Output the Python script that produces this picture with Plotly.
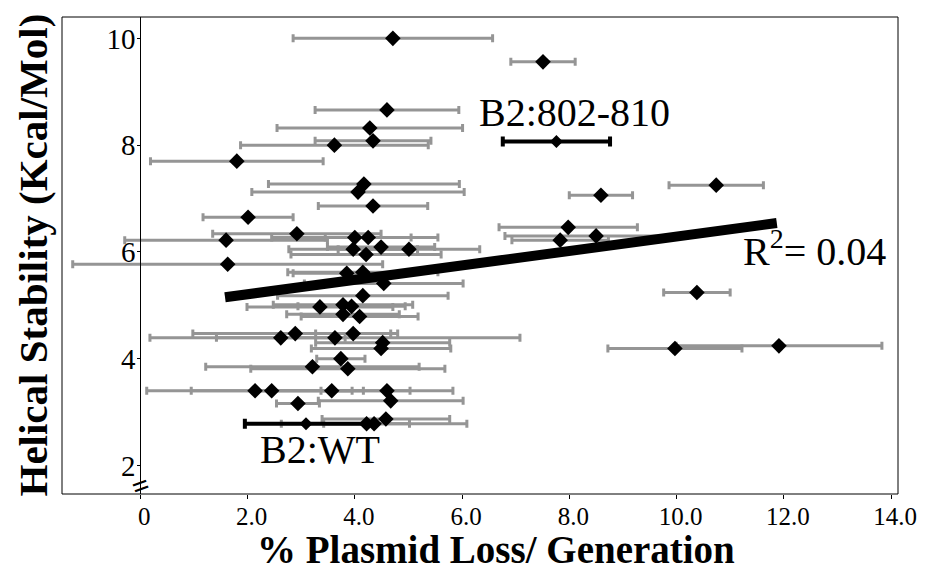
import plotly.graph_objects as go

# ---- data ----
loss = [4.71, 7.51, 4.60, 4.28, 3.62, 4.34, 1.80, 4.17, 4.06, 4.34,
        10.74, 8.59, 2.01, 7.98, 8.50, 7.83, 1.60, 2.92, 1.63, 4.00,
        4.25, 3.97, 4.49, 4.21, 5.01, 3.85, 4.15, 4.54, 4.15, 3.35,
        3.78, 3.94, 3.78, 4.09, 2.62, 2.89, 3.63, 3.97, 4.52, 4.49,
        3.74, 3.21, 3.87, 2.14, 2.45, 3.57, 4.60, 4.67, 2.94, 4.58,
        4.22, 4.36, 10.38, 9.97, 11.91]
loss_sd = [1.86, 0.60, 1.34, 1.73, 1.75, 1.08, 1.61, 1.78, 1.98, 1.02,
           0.88, 0.59, 0.84, 1.29, 1.70, 0.90, 1.89, 1.57, 2.89, 1.55,
           0.80, 1.20, 1.00, 1.40, 1.32, 1.00, 1.40, 1.48, 1.59, 1.36,
           1.30, 1.00, 1.05, 1.09, 1.20, 1.91, 3.45, 0.70, 1.25, 1.30,
           0.45, 1.99, 1.81, 2.02, 1.50, 1.46, 1.23, 1.35, 0.40, 1.19,
           0.80, 1.73, 0.62, 1.25, 1.92]
stability = [10.00, 9.56, 8.66, 8.32, 8.00, 8.08, 7.70, 7.27, 7.12, 6.86,
             7.25, 7.06, 6.65, 6.46, 6.30, 6.22, 6.22, 6.34, 5.77, 6.27,
             6.27, 6.05, 6.09, 5.95, 6.05, 5.60, 5.62, 5.41, 5.18, 4.97,
             5.01, 4.98, 4.83, 4.79, 4.39, 4.47, 4.39, 4.47, 4.30, 4.19,
             4.00, 3.85, 3.81, 3.40, 3.40, 3.40, 3.40, 3.21, 3.16, 2.87,
             2.78, 2.78, 5.24, 4.19, 4.24]

hl_names = ["B2:802-810", "B2:WT"]
hl_loss = [7.76, 3.09]
hl_sd = [1.00, 1.14]
hl_stab = [8.07, 2.78]

fit_x = [1.58, 11.87]
fit_y = [5.15, 6.54]
r_squared = 0.04

x_ticks = [0, 2, 4, 6, 8, 10, 12, 14]
x_ticktext = ["0", "2.0", "4.0", "6.0", "8.0", "10.0", "12.0", "14.0"]
y_ticks = [2, 4, 6, 8, 10]

FONT = "Liberation Serif, Times New Roman, serif"
X_RANGE = [-1.46, 14.13]
Y_RANGE = [1.465, 10.40]

fig = go.Figure()

fig.add_trace(go.Scatter(
    x=loss, y=stability, mode="markers",
    marker=dict(symbol="diamond", size=12, color="black"),
    error_x=dict(type="data", array=loss_sd, visible=True,
                 color="#959595", thickness=3, width=4),
    showlegend=False, hoverinfo="x+y"))

fig.add_trace(go.Scatter(
    x=hl_loss, y=hl_stab, mode="markers", text=hl_names,
    marker=dict(symbol="diamond", size=10, color="black"),
    error_x=dict(type="data", array=hl_sd, visible=True,
                 color="black", thickness=4, width=5),
    showlegend=False))

fig.add_trace(go.Scatter(
    x=fit_x, y=fit_y, mode="lines",
    line=dict(color="black", width=10),
    showlegend=False, hoverinfo="skip"))

ypos = (0 - X_RANGE[0]) / (X_RANGE[1] - X_RANGE[0])

fig.update_layout(
    width=930, height=573,
    margin=dict(l=62, r=32, t=17, b=79),
    paper_bgcolor="white", plot_bgcolor="white",
    font=dict(family=FONT, color="black"),
    xaxis=dict(range=X_RANGE, tickvals=x_ticks, ticktext=x_ticktext,
               ticks="outside", ticklen=4, tickcolor="black",
               ticklabelshift=4, ticklabelstandoff=-4,
               showgrid=False, zeroline=False, showline=False,
               tickfont=dict(size=25, family=FONT)),
    yaxis=dict(range=Y_RANGE, tickvals=y_ticks,
               anchor="free", position=ypos,
               ticks="outside", ticklen=3, tickcolor="black",
               ticklabelstandoff=-4,
               showline=True, linecolor="black", linewidth=1,
               showgrid=False, zeroline=False,
               tickfont=dict(size=29, family=FONT)),
    shapes=[dict(type="rect", xref="paper", yref="paper",
                 x0=0, y0=0, x1=1, y1=1,
                 line=dict(color="black", width=1))],
    annotations=[
        dict(text="% Plasmid Loss/ Generation", xref="paper", yref="paper",
             x=0.519, y=0, yanchor="middle", yshift=-55, showarrow=False,
             height=44,
             font=dict(size=39, family=FONT, weight="bold")),
        dict(text="Helical Stability (Kcal/Mol)", xref="paper", yref="paper",
             x=0, y=0.5, xanchor="center", yanchor="middle",
             xshift=-30, yshift=0, textangle=-90, showarrow=False,
             font=dict(size=41, family=FONT, weight="bold")),
        dict(text=hl_names[0], x=8.1, y=8.62, xref="x", yref="y",
             showarrow=False, font=dict(size=40, family=FONT)),
        dict(text=hl_names[1], x=3.36, y=2.3, xref="x", yref="y",
             showarrow=False, font=dict(size=40, family=FONT)),
        dict(text="R<sup>2</sup>= %.2f" % r_squared, x=12.58, y=6.06,
             xref="x", yref="y", showarrow=False,
             font=dict(size=40, family=FONT)),
        dict(text="=", x=0, y=1.62, xref="x", yref="y", showarrow=False,
             textangle=-20, font=dict(size=30, family=FONT, weight="bold")),
    ],
)

fig.write_html("out.html")
